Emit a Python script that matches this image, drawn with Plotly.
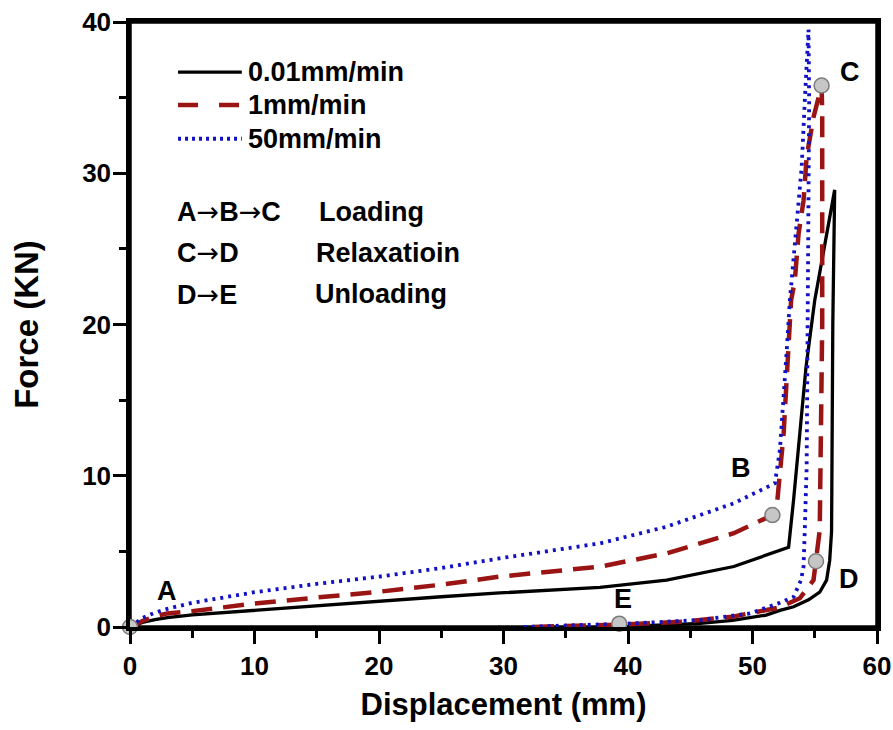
import plotly.graph_objects as go

# ---- data ----
black_x = [0, 1, 2, 3, 5, 10, 15, 20, 25, 29.7, 37.75, 43.1, 48.5, 52.9, 53.0, 53.3, 53.8, 54.3, 55.0,
           56.6, 56.45, 56.35, 56.2, 55.95, 55.4, 54.5, 53.3, 52.2, 51.1, 48.4, 45.8, 41.8, 39.0]
black_y = [0, 0.3, 0.48, 0.62, 0.8, 1.1, 1.42, 1.74, 2.0, 2.25, 2.62, 3.1, 4.0, 5.27, 6.2, 8.4, 12.8, 17.2, 21.6,
           28.9, 20.0, 6.3, 4.4, 3.1, 2.3, 1.8, 1.34, 1.1, 0.79, 0.44, 0.24, 0.07, 0.0]

red_x = [0, 1, 2, 3, 5, 10, 15, 20, 25, 29.7, 37.75, 43.1, 48.5, 51.6, 52.0, 52.5, 52.8, 53.1, 53.4, 53.7,
         54.1, 54.35, 54.9, 55.55, 55.6, 55.6, 55.4, 55.1, 54.9, 53.8, 52.2, 48.4, 44.4, 39.2, 35.0, 32.0]
red_y = [0, 0.4, 0.7, 0.9, 1.05, 1.55, 1.95, 2.33, 2.8, 3.33, 3.99, 4.87, 6.2, 7.4, 8.4, 12.8, 17.2, 21.6, 22.9, 26.0,
         28.2, 31.1, 33.7, 35.8, 34.0, 20.0, 6.4, 4.4, 3.1, 1.9, 1.3, 0.68, 0.35, 0.15, 0.05, 0.0]

blue_x = [0, 1, 2, 3, 5, 10, 15, 20, 25, 29.7, 37.75, 43.1, 48.5, 51.8, 52.2, 52.5, 52.75, 53.0, 53.5, 53.95,
          54.2, 54.4, 54.5, 54.55, 54.5, 54.4, 54.35, 54.2, 54.1, 53.9, 53.3, 52.2, 49.8, 45.8, 40.4, 35.1, 31.4]
blue_y = [0, 0.6, 0.95, 1.2, 1.6, 2.3, 2.85, 3.33, 3.9, 4.54, 5.53, 6.63, 8.18, 9.5, 11.7, 15.0, 18.3, 21.6, 26.0, 30.4,
          34.8, 38.1, 39.5, 34.8, 28.2, 21.6, 10.6, 6.4, 4.0, 3.1, 2.0, 1.6, 0.9, 0.46, 0.24, 0.1, 0.0]

point_labels = ["A", "B", "C", "D", "E"]
point_x = [0, 51.6, 55.55, 55.1, 39.3]
point_y = [0, 7.4, 35.8, 4.35, 0.22]
label_x = [3.0, 49.1, 57.8, 57.75, 39.6]
label_y = [2.38, 10.5, 36.7, 3.17, 1.85]

series_names = ["0.01mm/min", "1mm/min", "50mm/min"]
stage_left = ["A→B→C", "C→D", "D→E"]
stage_right = ["Loading", "Relaxatioin", "Unloading"]
x_ticks = [0, 10, 20, 30, 40, 50, 60]
y_ticks = [0, 10, 20, 30, 40]

FONT = "Liberation Sans, Arial, sans-serif"
BLACK = "#000000"
RED = "#9B1414"
BLUE = "#1212C4"
RED_DASH = "21px,11px"
BLUE_DOT = "3px,5px"

fig = go.Figure()
fig.add_trace(go.Scatter(x=black_x, y=black_y, mode="lines", name=series_names[0],
                         line=dict(color=BLACK, width=3.3), showlegend=False))
fig.add_trace(go.Scatter(x=red_x, y=red_y, mode="lines", name=series_names[1],
                         line=dict(color=RED, width=4.5, dash=RED_DASH), showlegend=False))
fig.add_trace(go.Scatter(x=blue_x, y=blue_y, mode="lines", name=series_names[2],
                         line=dict(color=BLUE, width=3.8, dash=BLUE_DOT), showlegend=False))
fig.add_trace(go.Scatter(x=point_x, y=point_y, mode="markers", showlegend=False, cliponaxis=False,
                         marker=dict(size=15, color="#C6C6C6", line=dict(color="#7C7C7C", width=1.5))))

for t, lx, ly in zip(point_labels, label_x, label_y):
    fig.add_annotation(x=lx, y=ly, text=t, showarrow=False, xanchor="center", yanchor="middle",
                       font=dict(family=FONT, size=27, color="black", weight="bold"))

# plot frame
fig.add_shape(type="rect", xref="paper", yref="paper", x0=0, x1=1, y0=0, y1=1,
              line=dict(color="black", width=3.5), layer="below")

# manual legend
leg_y = [0.917, 0.863, 0.807]
leg_styles = [dict(color=BLACK, width=3.3), dict(color=RED, width=4.5, dash="20px,21px"),
              dict(color=BLUE, width=3.8, dash="3px,4px")]
for name, yy, st in zip(series_names, leg_y, leg_styles):
    fig.add_shape(type="line", xref="paper", yref="paper", x0=0.0643, x1=0.1497, y0=yy, y1=yy, line=st)
    fig.add_annotation(xref="paper", yref="paper", x=0.155, y=yy, text=name, showarrow=False,
                       xanchor="left", yanchor="middle",
                       font=dict(family=FONT, size=27, color="black", weight="bold"))

ARROW = '<span style="font-family:DejaVu Sans;font-weight:normal">→</span>'
stage_y = [0.686, 0.619, 0.550]
stage_rx = [0.251, 0.246, 0.245]
for l, r, yy, rx in zip(stage_left, stage_right, stage_y, stage_rx):
    fig.add_annotation(xref="paper", yref="paper", x=0.060, y=yy, text=l.replace("→", ARROW),
                       showarrow=False, xanchor="left", yanchor="middle",
                       font=dict(family=FONT, size=27, color="black", weight="bold"))
    fig.add_annotation(xref="paper", yref="paper", x=rx, y=yy, text=r, showarrow=False,
                       xanchor="left", yanchor="middle",
                       font=dict(family=FONT, size=27, color="black", weight="bold"))

axis_common = dict(showline=True, linecolor="black", linewidth=3.5, mirror=True, showgrid=False,
                   zeroline=False, ticks="outside", ticklen=13, tickwidth=2.5, tickcolor="black",
                   automargin=False, ticklabeloverflow="allow",
                   tickfont=dict(family=FONT, size=26, color="black", weight="bold"))
fig.update_xaxes(range=[0, 60], tickvals=x_ticks, ticktext=[str(v) for v in x_ticks],
                 minor=dict(dtick=5, ticks="outside", ticklen=7, tickwidth=2.5, tickcolor="black"),
                 title=dict(text="Displacement (mm)", standoff=14,
                            font=dict(family=FONT, size=31, color="black", weight="bold")),
                 **axis_common)
fig.update_yaxes(range=[0, 40], tickvals=y_ticks, ticktext=[str(v) for v in y_ticks],
                 ticklabelstandoff=-3,
                 minor=dict(dtick=5, ticks="outside", ticklen=7, tickwidth=2.5, tickcolor="black"),
                 title=dict(text="Force (KN)", standoff=35,
                            font=dict(family=FONT, size=33, color="black", weight="bold")),
                 **axis_common)

fig.update_layout(width=893, height=730, plot_bgcolor="white", paper_bgcolor="white",
                  margin=dict(l=130, r=16, t=22, b=103, autoexpand=False), showlegend=False)

fig.write_html("out.html", config={"displayModeBar": False},
               post_script="document.body.style.margin='0';document.body.style.overflow='hidden';")
